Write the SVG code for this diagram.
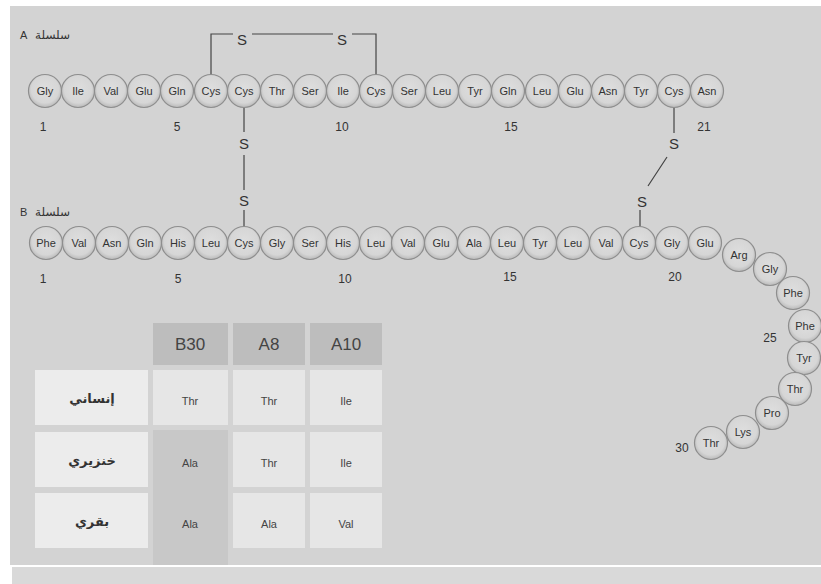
<svg xmlns="http://www.w3.org/2000/svg" width="821" height="584" viewBox="0 0 821 584">
<defs>
<radialGradient id="rg" cx="50%" cy="45%" r="55%">
<stop offset="0" stop-color="#dedede"/>
<stop offset="0.75" stop-color="#d6d6d6"/>
<stop offset="1" stop-color="#b9b9b9"/>
</radialGradient>
<style>
.res circle{fill:url(#rg);stroke:#8e8e8e;stroke-width:1.2}
.res text{font-family:"Liberation Sans",Arial,sans-serif;font-size:11px;fill:#333;text-anchor:middle}
.num{font-family:"Liberation Sans",Arial,sans-serif;font-size:12px;fill:#333;text-anchor:middle}
.s{font-family:"Liberation Sans",Arial,sans-serif;font-size:15px;fill:#333;text-anchor:middle}
.lab{font-family:"Liberation Sans","DejaVu Sans",sans-serif;font-size:11px;fill:#333}
.arl{font-family:"DejaVu Sans",sans-serif;font-size:12px;fill:#333}
.bond{stroke:#444;stroke-width:1.2;fill:none}
.hd{fill:#bdbdbd}
.cell{fill:#e6e6e6}
.lc{fill:#ececec}
.dk{fill:#c8c8c8}
.ht{font-family:"Liberation Sans",Arial,sans-serif;font-size:17px;fill:#444;text-anchor:middle}
.ct{font-family:"Liberation Sans",Arial,sans-serif;font-size:11px;fill:#444;text-anchor:middle}
.ar{font-family:"DejaVu Sans",sans-serif;font-size:13px;font-weight:bold;fill:#333;text-anchor:middle}
</style>
</defs>
<rect width="821" height="584" fill="#ffffff"/>
<rect x="10" y="6" width="811" height="559" fill="#d3d3d3"/>
<rect x="12" y="567" width="809" height="17" fill="#d9d9d9"/>

<g id="connectors">
<path class="bond" d="M211 75 V34 H233 M252 34 H333 M352 34 H376 V75"/>
<path class="bond" d="M244 107 V132 M244 155 V190 M244 210 V227"/>
<path class="bond" d="M674 107 V133 M667 157 L648 186 M640 210 V227"/>
</g>

<g id="sulfur">
<text class="s" x="242" y="45">S</text>
<text class="s" x="342" y="45">S</text>
<text class="s" x="244" y="149">S</text>
<text class="s" x="244" y="206">S</text>
<text class="s" x="674" y="149">S</text>
<text class="s" x="642" y="207">S</text>
</g>

<g id="labelA"><text class="lab" x="20" y="39">A</text><text class="arl" x="35" y="39">سلسلة</text></g>
<g id="labelB"><text class="lab" x="20" y="216">B</text><text class="arl" x="35" y="216">سلسلة</text></g>

<g id="chainA">
<g id="A1" class="res"><circle cx="45" cy="91" r="16.5"/><text x="45" y="95">Gly</text></g>
<g id="A2" class="res"><circle cx="78" cy="91" r="16.5"/><text x="78" y="95">Ile</text></g>
<g id="A3" class="res"><circle cx="111" cy="91" r="16.5"/><text x="111" y="95">Val</text></g>
<g id="A4" class="res"><circle cx="144" cy="91" r="16.5"/><text x="144" y="95">Glu</text></g>
<g id="A5" class="res"><circle cx="177" cy="91" r="16.5"/><text x="177" y="95">Gln</text></g>
<g id="A6" class="res"><circle cx="211" cy="91" r="16.5"/><text x="211" y="95">Cys</text></g>
<g id="A7" class="res"><circle cx="244" cy="91" r="16.5"/><text x="244" y="95">Cys</text></g>
<g id="A8" class="res"><circle cx="277" cy="91" r="16.5"/><text x="277" y="95">Thr</text></g>
<g id="A9" class="res"><circle cx="310" cy="91" r="16.5"/><text x="310" y="95">Ser</text></g>
<g id="A10" class="res"><circle cx="343" cy="91" r="16.5"/><text x="343" y="95">Ile</text></g>
<g id="A11" class="res"><circle cx="376" cy="91" r="16.5"/><text x="376" y="95">Cys</text></g>
<g id="A12" class="res"><circle cx="409" cy="91" r="16.5"/><text x="409" y="95">Ser</text></g>
<g id="A13" class="res"><circle cx="442" cy="91" r="16.5"/><text x="442" y="95">Leu</text></g>
<g id="A14" class="res"><circle cx="475" cy="91" r="16.5"/><text x="475" y="95">Tyr</text></g>
<g id="A15" class="res"><circle cx="508" cy="91" r="16.5"/><text x="508" y="95">Gln</text></g>
<g id="A16" class="res"><circle cx="542" cy="91" r="16.5"/><text x="542" y="95">Leu</text></g>
<g id="A17" class="res"><circle cx="575" cy="91" r="16.5"/><text x="575" y="95">Glu</text></g>
<g id="A18" class="res"><circle cx="608" cy="91" r="16.5"/><text x="608" y="95">Asn</text></g>
<g id="A19" class="res"><circle cx="641" cy="91" r="16.5"/><text x="641" y="95">Tyr</text></g>
<g id="A20" class="res"><circle cx="674" cy="91" r="16.5"/><text x="674" y="95">Cys</text></g>
<g id="A21" class="res"><circle cx="707" cy="91" r="16.5"/><text x="707" y="95">Asn</text></g>
</g>

<g id="numbersA">
<text class="num" x="43" y="131">1</text>
<text class="num" x="177" y="131">5</text>
<text class="num" x="342" y="131">10</text>
<text class="num" x="511" y="131">15</text>
<text class="num" x="704" y="131">21</text>
</g>

<g id="chainB">
<g id="B1" class="res"><circle cx="46" cy="243" r="16.5"/><text x="46" y="247">Phe</text></g>
<g id="B2" class="res"><circle cx="79" cy="243" r="16.5"/><text x="79" y="247">Val</text></g>
<g id="B3" class="res"><circle cx="112" cy="243" r="16.5"/><text x="112" y="247">Asn</text></g>
<g id="B4" class="res"><circle cx="145" cy="243" r="16.5"/><text x="145" y="247">Gln</text></g>
<g id="B5" class="res"><circle cx="178" cy="243" r="16.5"/><text x="178" y="247">His</text></g>
<g id="B6" class="res"><circle cx="211" cy="243" r="16.5"/><text x="211" y="247">Leu</text></g>
<g id="B7" class="res"><circle cx="244" cy="243" r="16.5"/><text x="244" y="247">Cys</text></g>
<g id="B8" class="res"><circle cx="277" cy="243" r="16.5"/><text x="277" y="247">Gly</text></g>
<g id="B9" class="res"><circle cx="310" cy="243" r="16.5"/><text x="310" y="247">Ser</text></g>
<g id="B10" class="res"><circle cx="343" cy="243" r="16.5"/><text x="343" y="247">His</text></g>
<g id="B11" class="res"><circle cx="376" cy="243" r="16.5"/><text x="376" y="247">Leu</text></g>
<g id="B12" class="res"><circle cx="408" cy="243" r="16.5"/><text x="408" y="247">Val</text></g>
<g id="B13" class="res"><circle cx="441" cy="243" r="16.5"/><text x="441" y="247">Glu</text></g>
<g id="B14" class="res"><circle cx="474" cy="243" r="16.5"/><text x="474" y="247">Ala</text></g>
<g id="B15" class="res"><circle cx="507" cy="243" r="16.5"/><text x="507" y="247">Leu</text></g>
<g id="B16" class="res"><circle cx="540" cy="243" r="16.5"/><text x="540" y="247">Tyr</text></g>
<g id="B17" class="res"><circle cx="573" cy="243" r="16.5"/><text x="573" y="247">Leu</text></g>
<g id="B18" class="res"><circle cx="606" cy="243" r="16.5"/><text x="606" y="247">Val</text></g>
<g id="B19" class="res"><circle cx="639" cy="243" r="16.5"/><text x="639" y="247">Cys</text></g>
<g id="B20" class="res"><circle cx="672" cy="243" r="16.5"/><text x="672" y="247">Gly</text></g>
<g id="B21" class="res"><circle cx="705" cy="243" r="16.5"/><text x="705" y="247">Glu</text></g>
<g id="B22" class="res"><circle cx="739" cy="255" r="16.5"/><text x="739" y="259">Arg</text></g>
<g id="B23" class="res"><circle cx="770" cy="269" r="16.5"/><text x="770" y="273">Gly</text></g>
<g id="B24" class="res"><circle cx="793" cy="293" r="16.5"/><text x="793" y="297">Phe</text></g>
<g id="B25" class="res"><circle cx="805" cy="326" r="16.5"/><text x="805" y="330">Phe</text></g>
<g id="B26" class="res"><circle cx="804" cy="358" r="16.5"/><text x="804" y="362">Tyr</text></g>
<g id="B27" class="res"><circle cx="795" cy="389" r="16.5"/><text x="795" y="393">Thr</text></g>
<g id="B28" class="res"><circle cx="772" cy="413" r="16.5"/><text x="772" y="417">Pro</text></g>
<g id="B29" class="res"><circle cx="743" cy="432" r="16.5"/><text x="743" y="436">Lys</text></g>
<g id="B30" class="res"><circle cx="711" cy="443" r="16.5"/><text x="711" y="447">Thr</text></g>
</g>

<g id="numbersB">
<text class="num" x="43" y="283">1</text>
<text class="num" x="178" y="283">5</text>
<text class="num" x="345" y="283">10</text>
<text class="num" x="510" y="281">15</text>
<text class="num" x="675" y="281">20</text>
<text class="num" x="770" y="342">25</text>
<text class="num" x="682" y="452">30</text>
</g>

<g id="table">
<rect class="hd" x="153" y="323" width="75" height="42"/>
<rect class="hd" x="233" y="323" width="72" height="42"/>
<rect class="hd" x="310" y="323" width="72" height="42"/>
<text class="ht" x="190" y="350">B30</text>
<text class="ht" x="269" y="350">A8</text>
<text class="ht" x="346" y="350">A10</text>
<rect class="lc" x="35" y="370" width="113" height="55"/>
<rect class="lc" x="35" y="432" width="113" height="55"/>
<rect class="lc" x="35" y="493" width="113" height="55"/>
<rect class="cell" x="153" y="370" width="75" height="55"/>
<rect class="dk" x="153" y="430" width="75" height="135"/>
<rect class="cell" x="233" y="370" width="72" height="55"/>
<rect class="cell" x="233" y="432" width="72" height="55"/>
<rect class="cell" x="233" y="493" width="72" height="55"/>
<rect class="cell" x="310" y="370" width="72" height="55"/>
<rect class="cell" x="310" y="432" width="72" height="55"/>
<rect class="cell" x="310" y="493" width="72" height="55"/>
<text class="ar" x="92" y="403">إنساني</text>
<text class="ar" x="92" y="465">خنزيري</text>
<text class="ar" x="92" y="526">بقري</text>
<text class="ct" x="190" y="405">Thr</text>
<text class="ct" x="269" y="405">Thr</text>
<text class="ct" x="346" y="405">Ile</text>
<text class="ct" x="190" y="467">Ala</text>
<text class="ct" x="269" y="467">Thr</text>
<text class="ct" x="346" y="467">Ile</text>
<text class="ct" x="190" y="528">Ala</text>
<text class="ct" x="269" y="528">Ala</text>
<text class="ct" x="346" y="528">Val</text>
</g>
</svg>
